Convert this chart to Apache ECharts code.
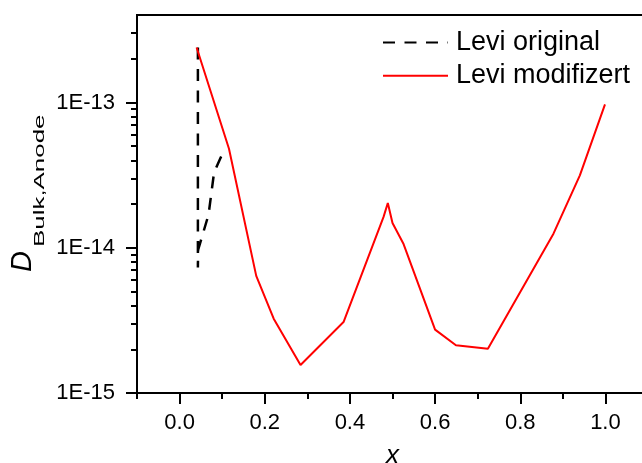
<!DOCTYPE html>
<html><head><meta charset="utf-8">
<script src="https://cdn.jsdelivr.net/npm/echarts@6/dist/echarts.min.js"></script>
<style>html,body{margin:0;padding:0;background:#fff}#c{width:642px;height:463px}</style>
</head><body><div id="c"></div>
<script>
const FONT = '"Liberation Sans", Arial, sans-serif';

// Levi original (black dashed)
const origX = [0.043, 0.043, 0.0435, 0.068, 0.081, 0.103];
const origY = [2.39e-13, 7.3e-15, 9.66e-15, 1.69e-14, 3.3e-14, 4.6e-14];

// Levi modifizert (red)
const modX = [0.040, 0.116, 0.180, 0.221, 0.284, 0.385, 0.479, 0.489, 0.500, 0.526, 0.600, 0.649, 0.724, 0.878, 0.940, 0.999];
const modY = [2.39e-13, 4.8e-14, 6.4e-15, 3.25e-15, 1.56e-15, 3.08e-15, 1.63e-14, 2.03e-14, 1.48e-14, 1.06e-14, 2.73e-15, 2.13e-15, 2.02e-15, 1.25e-14, 3.15e-14, 9.7e-14];

// ticks
const xMajorTicks = [0.0, 0.2, 0.4, 0.6, 0.8, 1.0];
const xMinorTicks = [-0.1, 0.1, 0.3, 0.5, 0.7, 0.9, 1.1];
const yMajorTicks = [1e-15, 1e-14, 1e-13];
const yMinorTicks = [2e-15, 3e-15, 4e-15, 5e-15, 6e-15, 7e-15, 8e-15, 9e-15,
                     2e-14, 3e-14, 4e-14, 5e-14, 6e-14, 7e-14, 8e-14, 9e-14,
                     2e-13, 3e-13];

const seriesNames = ['Levi original', 'Levi modifizert'];

const zip = (xs, ys) => xs.map((x, i) => [x, ys[i]]);

const chart = echarts.init(document.getElementById('c'), null, {renderer: 'canvas'});
const black = '#000';
chart.setOption({
  animation: false,
  backgroundColor: '#fff',
  textStyle: {fontFamily: FONT},
  grid: {left: 137, top: 15, width: 511, height: 378, show: true, borderColor: black, borderWidth: 2,
         outerBoundsMode: 'none', containLabel: false},
  legend: {
    orient: 'vertical', left: 382, top: 29, padding: 0, itemGap: 6.3,
    itemWidth: 65, itemHeight: 14,
    itemStyle: {opacity: 0},
    textStyle: {fontSize: 27, color: black, fontFamily: FONT, padding: [0, 0, 0, 3]},
    data: seriesNames
  },
  xAxis: [{
    type: 'value', min: -0.1, max: 1.1, position: 'bottom',
    axisLine: {show: true, onZero: false, lineStyle: {color: black, width: 2}},
    axisTick: {show: true, customValues: xMajorTicks, length: 11, lineStyle: {color: black, width: 2}},
    axisLabel: {customValues: xMajorTicks, formatter: v => v.toFixed(1), fontSize: 22, color: black, fontFamily: FONT, margin: 19},
    splitLine: {show: false},
    name: 'x', nameLocation: 'middle', nameGap: 50,
    nameTextStyle: {fontSize: 26, fontStyle: 'italic', color: black, fontFamily: FONT}
  }, {
    type: 'value', min: -0.1, max: 1.1, position: 'bottom',
    axisLine: {show: false, onZero: false},
    axisTick: {show: true, customValues: xMinorTicks, length: 6, lineStyle: {color: black, width: 2}},
    axisLabel: {show: false},
    splitLine: {show: false}
  }],
  yAxis: [{
    type: 'log', logBase: 10, min: 1e-15, max: 4e-13, position: 'left',
    axisLine: {show: true, onZero: false, lineStyle: {color: black, width: 2}},
    axisTick: {show: true, customValues: yMajorTicks, length: 11, lineStyle: {color: black, width: 2}},
    axisLabel: {customValues: yMajorTicks, formatter: v => '1E' + Math.round(Math.log10(v)), fontSize: 22, color: black, fontFamily: FONT, margin: 22},
    splitLine: {show: false}
  }, {
    type: 'log', logBase: 10, min: 1e-15, max: 4e-13, position: 'left',
    axisLine: {show: false, onZero: false},
    axisTick: {show: true, customValues: yMinorTicks, length: 6, lineStyle: {color: black, width: 2}},
    axisLabel: {show: false},
    splitLine: {show: false}
  }],
  graphic: [{
    type: 'group', x: 23, y: 272, rotation: Math.PI / 2,
    children: [
      {type: 'text', x: 0, y: 0,
       style: {text: 'D', font: 'italic 29px ' + FONT, fill: black, align: 'left', verticalAlign: 'middle', textAlign: 'left', textVerticalAlign: 'middle'}},
      {type: 'text', x: 25, y: 17.5, scaleX: 1.85,
       style: {text: 'Bulk,Anode', font: '14px ' + FONT, fill: black, align: 'left', verticalAlign: 'middle', textAlign: 'left', textVerticalAlign: 'middle'}}
    ]
  }],
  series: [{
    name: seriesNames[0], type: 'line', xAxisIndex: 0, yAxisIndex: 0,
    data: zip(origX, origY), symbol: 'none', showSymbol: false,
    lineStyle: {color: black, width: 2.5, type: [12, 9.5]},
    itemStyle: {color: black}
  }, {
    name: seriesNames[1], type: 'line', xAxisIndex: 0, yAxisIndex: 0,
    data: zip(modX, modY), symbol: 'none', showSymbol: false,
    lineStyle: {color: '#ff0000', width: 2},
    itemStyle: {color: '#ff0000'}
  }]
});
</script>
</body></html>
